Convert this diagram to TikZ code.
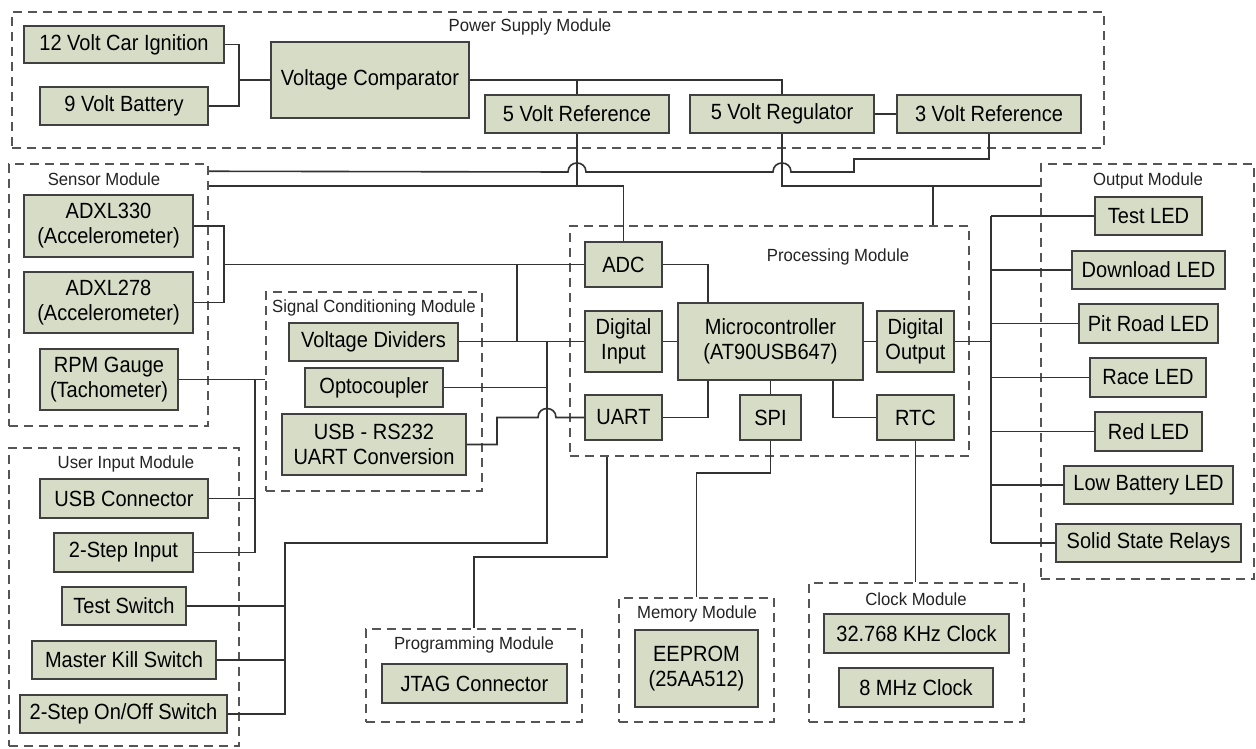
\documentclass[tikz,border=0pt]{standalone}
\usepackage{fontspec}
\setmainfont{Liberation Sans}
\newfontfamily\boxfont{Liberation Sans}[FakeStretch=0.91]
\newfontfamily\lblfont{Liberation Sans}[FakeStretch=0.95]
\usetikzlibrary{calc}
\definecolor{boxfill}{RGB}{214,220,198}
\definecolor{boxline}{RGB}{64,64,64}
\definecolor{wirecol}{RGB}{50,50,50}
\definecolor{modline}{RGB}{85,85,85}
\definecolor{lblcol}{RGB}{35,35,35}
\tikzset{
  blk/.style={draw=boxline, line width=2pt, fill=boxfill, inner sep=0pt, align=center,
    font=\boxfont\fontsize{22}{25}\selectfont, text=black},
  modbox/.style={draw=modline, line width=1.5pt, dash pattern=on 9pt off 6pt, inner sep=0pt},
  modlbl/.style={font=\lblfont\fontsize{17.6}{20}\selectfont, text=lblcol, inner sep=0pt},
  wire/.style={draw=wirecol, line width=1.6pt}
}
\begin{document}
\begin{tikzpicture}[x=1pt,y=-1pt]
\useasboundingbox (0,0) rectangle (1256,748);
\fill[white] (0,0) rectangle (1256,748);

% ---------- module frames ----------
\node[modbox, minimum width=1092pt, minimum height=136pt] (psm) at (558,80) {};
\node[modbox, minimum width=199pt, minimum height=262pt] (sensor) at (108.5,295) {};
\node[modbox, minimum width=216pt, minimum height=199pt] (sig) at (374,391.5) {};
\node[modbox, minimum width=230pt, minimum height=298pt] (user) at (124,597) {};
\node[modbox, minimum width=399pt, minimum height=230pt] (proc) at (769.5,341) {};
\node[modbox, minimum width=213pt, minimum height=415pt] (out) at (1147.5,371.5) {};
\node[modbox, minimum width=216pt, minimum height=93pt] (prog) at (474,675.5) {};
\node[modbox, minimum width=155pt, minimum height=124pt] (mem) at (696.5,660) {};
\node[modbox, minimum width=215pt, minimum height=139pt] (clk) at (916.5,652.5) {};

% ---------- module labels ----------
\node[modlbl] (lpsm) at (530,27) {Power Supply Module};
\node[modlbl] (lsensor) at (104,179) {Sensor Module};
\node[modlbl] (lsig) at (374,308) {Signal Conditioning Module};
\node[modlbl] (luser) at (126,464) {User Input Module};
\node[modlbl] (lproc) at (838,257) {Processing Module};
\node[modlbl] (lout) at (1148,181) {Output Module};
\node[modlbl] (lprog) at (474,645) {Programming Module};
\node[modlbl] (lmem) at (697,614) {Memory Module};
\node[modlbl] (lclk) at (916,599) {Clock Module};

% ---------- power supply ----------
\node[blk, minimum width=200pt, minimum height=37pt] (ign) at (124,44.5) {12 Volt Car Ignition};
\node[blk, minimum width=168pt, minimum height=38pt] (bat) at (124,106) {9 Volt Battery};
\node[blk, minimum width=198pt, minimum height=76pt] (comp) at (370,80) {Voltage Comparator};
\node[blk, minimum width=184pt, minimum height=38pt] (ref5) at (577,114) {5 Volt Reference};
\node[blk, minimum width=184pt, minimum height=38pt] (reg5) at (782,114) {5 Volt Regulator};
\node[blk, minimum width=184pt, minimum height=38pt] (ref3) at (989,114) {3 Volt Reference};

% ---------- sensors ----------
\node[blk, minimum width=169pt, minimum height=62pt] (adxa) at (108.5,226) {ADXL330\\(Accelerometer)};
\node[blk, minimum width=169pt, minimum height=61pt] (adxb) at (108.5,302.5) {ADXL278\\(Accelerometer)};
\node[blk, minimum width=138pt, minimum height=61pt] (rpm) at (109,379.5) {RPM Gauge\\(Tachometer)};

% ---------- signal conditioning ----------
\node[blk, minimum width=169pt, minimum height=38pt] (vdiv) at (373.5,341.5) {Voltage Dividers};
\node[blk, minimum width=138pt, minimum height=39pt] (opto) at (374,387.5) {Optocoupler};
\node[blk, minimum width=184pt, minimum height=61pt] (usbr) at (374,444.5) {USB - RS232\\UART Conversion};

% ---------- user input ----------
\node[blk, minimum width=168pt, minimum height=39pt] (usbc) at (124,498.5) {USB Connector};
\node[blk, minimum width=139pt, minimum height=39pt] (stepin) at (123.5,552.5) {2-Step Input};
\node[blk, minimum width=124pt, minimum height=38pt] (testsw) at (124,606) {Test Switch};
\node[blk, minimum width=184pt, minimum height=38pt] (mks) at (124,660) {Master Kill Switch};
\node[blk, minimum width=207pt, minimum height=38pt] (onoff) at (123.5,714) {2-Step On/Off Switch};

% ---------- processing ----------
\node[blk, minimum width=77pt, minimum height=45pt] (adc) at (623.5,264.5) {ADC};
\node[blk, minimum width=77pt, minimum height=61pt] (din) at (623.5,341.5) {Digital\\Input};
\node[blk, minimum width=77pt, minimum height=45pt] (uart) at (623.5,417.5) {UART};
\node[blk, minimum width=185pt, minimum height=77pt] (mcu) at (770.5,341.5) {Microcontroller\\(AT90USB647)};
\node[blk, minimum width=77pt, minimum height=61pt] (dout) at (915.5,341.5) {Digital\\Output};
\node[blk, minimum width=61pt, minimum height=45pt] (spi) at (770.5,417.5) {SPI};
\node[blk, minimum width=77pt, minimum height=45pt] (rtc) at (915.5,417.5) {RTC};

% ---------- outputs ----------
\node[blk, minimum width=107pt, minimum height=38pt] (ltest) at (1148.5,216) {Test LED};
\node[blk, minimum width=153pt, minimum height=38pt] (ldl) at (1148.5,270) {Download LED};
\node[blk, minimum width=139pt, minimum height=39pt] (lpit) at (1148.5,323.5) {Pit Road LED};
\node[blk, minimum width=116pt, minimum height=39pt] (lrace) at (1148,377.5) {Race LED};
\node[blk, minimum width=107pt, minimum height=39pt] (lred) at (1148.5,431.5) {Red LED};
\node[blk, minimum width=169pt, minimum height=38pt] (llow) at (1148.5,485) {Low Battery LED};
\node[blk, minimum width=185pt, minimum height=38pt] (ssr) at (1148.5,543) {Solid State Relays};

% ---------- programming, memory, clock ----------
\node[blk, minimum width=185pt, minimum height=39pt] (jtag) at (474.5,683.5) {JTAG Connector};
\node[blk, minimum width=123pt, minimum height=77pt] (eep) at (696.5,668.5) {EEPROM\\(25AA512)};
\node[blk, minimum width=185pt, minimum height=39pt] (k32) at (916.5,633.5) {32.768 KHz Clock};
\node[blk, minimum width=154pt, minimum height=39pt] (m8) at (916,687.5) {8 MHz Clock};

% ---------- junction coordinates ----------
\coordinate (jPS) at (239,80);
\coordinate (j5r) at (577,80);
\coordinate (sL1) at ([yshift=-8pt]sensor.north east);
\coordinate (sL2) at ([yshift=-23pt]sensor.north east);
\coordinate (oL2) at ([yshift=-23pt]out.north west);
\coordinate (jP) at (933,187);
\coordinate (jA) at (224,264.5);
\coordinate (jV) at (517,264.5);
\coordinate (jD) at (547,341.5);
\coordinate (xSw) at (285,714);
\coordinate (jR) at (255,379.5);
\coordinate (bus) at (991,216);

% ---------- power wiring ----------
\draw[wire] (ign.east) -| (jPS) |- (bat.east);
\draw[wire] (jPS) -- (comp.west);
\draw[wire] (comp.east) -| (reg5.north);
\draw[wire] (j5r) -- (ref5.north);
\draw[wire] (reg5.east) -- (ref3.west);
\draw[wire] (ref5.south) -- (577,187);
\draw[wire] (sL2) -| (adc.north);
\draw[wire] (ref3.south) -- (989,159) -- (854,159) -- (854,172) -- (791,172)
  .. controls (791,160) and (773,160) .. (773,172) -- (586,172)
  .. controls (586,160) and (568,160) .. (568,172) -- (sL1);
\draw[wire] (reg5.south) |- (oL2);
\draw[wire] (jP) -- (jP |- proc.north);

% ---------- sensor / conditioning wiring ----------
\draw[wire] (adxa.east) -| (jA) |- (adxb.east);
\draw[wire] (jA) -- (adc.west);
\draw[wire] (jV) -- (jV |- vdiv.east);
\draw[wire] (vdiv.east) -- (din.west);
\draw[wire] (opto.east) -- (opto.east -| jD);
\draw[wire] (jD) |- (285,543) |- (onoff.east);
\draw[wire] (testsw.east) -- (testsw.east -| xSw);
\draw[wire] (mks.east) -- (mks.east -| xSw);
\draw[wire] (usbr.east) -- (497,444.5) -- (497,417.5) -- (538,417.5)
  .. controls (538,405.5) and (556,405.5) .. (556,417.5) -- (uart.west);
\draw[wire] (rpm.east) -- (rpm.east -| sig.west);
\draw[wire] (jR) |- (stepin.east);
\draw[wire] (usbc.east) -- (usbc.east -| jR);

% ---------- processing wiring ----------
\draw[wire] (adc.east) -| ([xshift=31pt]mcu.north west);
\draw[wire] (din.east) -- (mcu.west);
\draw[wire] (uart.east) -| ([xshift=31pt]mcu.south west);
\draw[wire] (spi.north) -- (mcu.south);
\draw[wire] (rtc.west) -| ([xshift=-31pt]mcu.south east);
\draw[wire] (dout.west) -- (mcu.east);
\draw[wire] (dout.east) -- (dout.east -| bus);

% ---------- output bus ----------
\draw[wire] (ltest.west -| bus) -- (ssr.west -| bus);
\foreach \n in {ltest,ldl,lpit,lrace,lred,llow,ssr}
  \draw[wire] (\n.west) -- (\n.west -| bus);

% ---------- lower modules ----------
\draw[wire] (spi.south) -- ++(0,32) -| (mem.north);
\draw[wire] (rtc.south) -- (rtc.south |- clk.north);
\draw[wire] ([xshift=38pt]proc.south west) -- ++(0,100) -| (prog.north);
\end{tikzpicture}
\end{document}
